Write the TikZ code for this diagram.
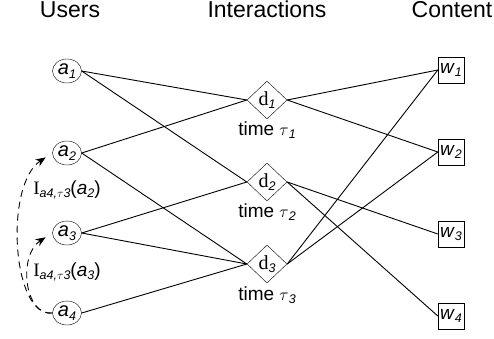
\documentclass[tikz,border=0pt]{standalone}
\usepackage{fontspec}
\setmainfont{Liberation Sans}
\newfontfamily\serifd{Liberation Serif}
\usetikzlibrary{shapes.geometric,arrows.meta}
\newcommand\subs[1]{\raisebox{-3.5pt}{\fontsize{12.5}{12.5}\selectfont\itshape #1}}
\begin{document}
\begin{tikzpicture}[x=1pt,y=-1pt,
  head/.style={font=\fontsize{23}{23}\selectfont,anchor=base,inner sep=0pt},
  user/.style={draw,ellipse,inner sep=0pt,minimum width=29pt,minimum height=24pt,font=\fontsize{20}{20}\selectfont},
  inter/.style={draw,diamond,inner sep=0pt,minimum width=40pt,minimum height=38pt,font=\fontsize{20}{20}\selectfont},
  item/.style={draw,rectangle,inner sep=0pt,minimum width=26pt,minimum height=26pt,font=\fontsize{19}{19}\selectfont},
  lbl/.style={font=\fontsize{19}{19}\selectfont,inner sep=0pt},
  ilbl/.style={font=\fontsize{19}{19}\selectfont,inner sep=0pt},
  edge/.style={draw,line width=0.9pt},
  infl/.style={draw,line width=0.9pt,dash pattern=on 7pt off 5pt,-{Stealth[length=10pt,width=8pt]},shorten >=8pt}]
\useasboundingbox (0,0) rectangle (494,338);
\node[head] (hu) at (70,17) {Users};
\node[head] (hi) at (267,17) {Interactions};
\node[head] (hc) at (452,17) {Content};

\node[user] (a1) at (67,71) {\textit{a}\subs{1}};
\node[user] (a2) at (67,153) {\textit{a}\subs{2}};
\node[user] (a3) at (67,233) {\textit{a}\subs{3}};
\node[user] (a4) at (67,313) {\textit{a}\subs{4}};

\node[inter] (d1) at (267,100) {{\serifd d}\subs{1}};
\node[inter] (d2) at (267,182) {{\serifd d}\subs{2}};
\node[inter] (d3) at (267,264) {{\serifd d}\subs{3}};
\node[lbl] (t1) at (267,130) {time $\tau$\subs{1}};
\node[lbl] (t2) at (267,212) {time $\tau$\subs{2}};
\node[lbl] (t3) at (267,295) {time $\tau$\subs{3}};

\node[item] (w1) at (451,70) {\textit{w}\subs{1}};
\node[item] (w2) at (451,152) {\textit{w}\subs{2}};
\node[item] (w3) at (451,234) {\textit{w}\subs{3}};
\node[item] (w4) at (451,316) {\textit{w}\subs{4}};

\path[edge] (a1.east) -- (d1.west);
\path[edge] (a1.east) -- (d2.west);
\path[edge] (a2.east) -- (d1.west);
\path[edge] (a2.east) -- (d3.west);
\path[edge] (a3.east) -- (d2.west);
\path[edge] (a3.east) -- (d3.west);
\path[edge] (a4.east) -- (d3.west);

\path[edge] (d1.east) -- (w1.west);
\path[edge] (d1.east) -- (w2.west);
\path[edge] (d2.east) -- (w3.west);
\path[edge] (d2.east) -- (w4.west);
\path[edge] (d3.east) -- (w1.west);
\path[edge] (d3.east) -- (w2.west);

\path[infl] (a4.west) .. controls (12,318) and (4,185) .. (a2.west);
\path[infl] (a4.west) .. controls (24,316) and (18,255) .. (a3.west);

\node[ilbl] (i2) at (67,190) {{\serifd I}\subs{a4,$\tau$3}(\textit{a}\subs{2})};
\node[ilbl] (i3) at (67,272) {{\serifd I}\subs{a4,$\tau$3}(\textit{a}\subs{3})};
\end{tikzpicture}
\end{document}
